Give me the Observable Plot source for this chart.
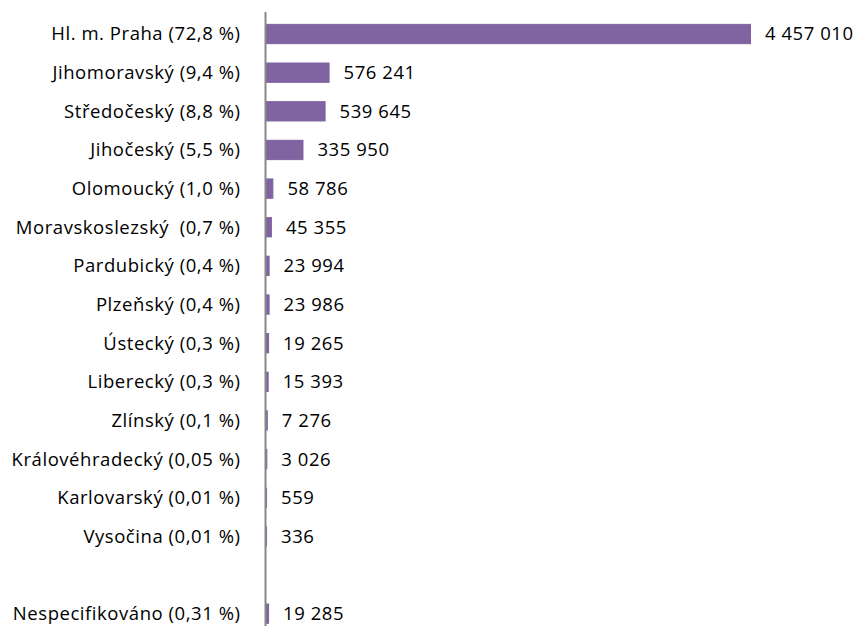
<!DOCTYPE html>
<html>
<head>
<meta charset="utf-8">
<script src="https://cdn.jsdelivr.net/npm/d3@7"></script>
<script src="https://cdn.jsdelivr.net/npm/@observablehq/plot@0.6"></script>
<style>
  html, body { margin: 0; padding: 0; background: #fff; }
  #chart svg { display: block; }
</style>
</head>
<body>
<div id="chart"></div>
<script>
const regions = ["Hl. m. Praha", "Jihomoravský", "Středočeský", "Jihočeský", "Olomoucký", "Moravskoslezský ", "Pardubický", "Plzeňský", "Ústecký", "Liberecký", "Zlínský", "Královéhradecký", "Karlovarský", "Vysočina", "", "Nespecifikováno"];
const shares = ["72,8 %", "9,4 %", "8,8 %", "5,5 %", "1,0 %", "0,7 %", "0,4 %", "0,4 %", "0,3 %", "0,3 %", "0,1 %", "0,05 %", "0,01 %", "0,01 %", "", "0,31 %"];
const values = [4457010, 576241, 539645, 335950, 58786, 45355, 23994, 23986, 19265, 15393, 7276, 3026, 559, 336, null, 19285];

const labels = regions.map((r, i) => r === "" ? " " : `${r} (${shares[i]})`);
const data = labels.map((l, i) => ({label: l, value: values[i]})).filter(d => d.value != null);
const fmt = v => d3.format(",")(v).replace(/,/g, " ");

const chart = Plot.plot({
  width: 859,
  height: 626,
  marginTop: 12,
  marginBottom: 0,
  marginLeft: 265,
  marginRight: 108,
  style: {fontFamily: "'Open Sans', sans-serif", fontSize: "18.5px", letterSpacing: "0.55px", color: "#000", background: "#fff"},
  x: {domain: [0, 4457010], range: [266.5, 750.5], axis: null},
  y: {domain: labels, range: [14.7, 633], round: false, paddingInner: 0.5, paddingOuter: 0.25, label: null, tickSize: 0, tickPadding: 25},
  marks: [
    Plot.barX(data, {x: "value", y: "label", fill: "#8064a2", stroke: "#8064a2", strokeWidth: 1}),
    Plot.text(data, {x: "value", y: "label", text: d => fmt(d.value), textAnchor: "start", dx: 14, fill: "#000", fontSize: 18.5}),
    Plot.ruleX([0], {stroke: "#888", strokeWidth: 2, dx: -1.5})
  ]
});
document.getElementById("chart").appendChild(chart);
</script>
</body>
</html>
